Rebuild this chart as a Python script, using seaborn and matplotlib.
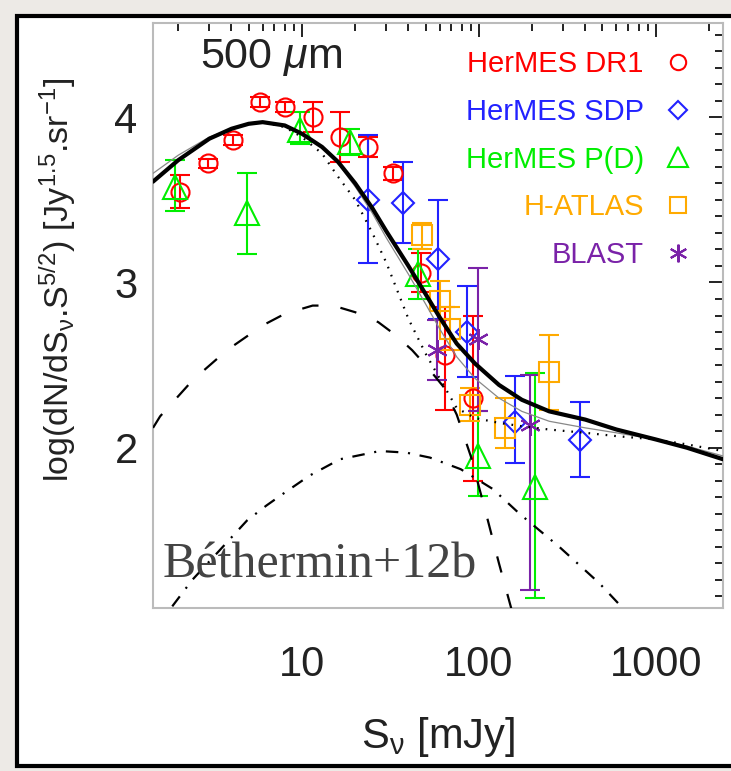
import pandas as pd
import seaborn as sns
import matplotlib.pyplot as plt
from matplotlib.lines import Line2D
from matplotlib.patches import Rectangle
from matplotlib.ticker import FixedLocator, MultipleLocator, NullFormatter, LogLocator

# HerMES DR1 (circles)
dr1_s = [2.05, 2.94, 4.07, 5.8, 8.0, 11.5, 16.4, 23.6, 32.7, 47, 64, 92.5]
dr1_y = [3.55, 3.72, 3.86, 4.09, 4.06, 4.00, 3.88, 3.82, 3.66, 3.06, 2.56, 2.30]
dr1_lo = [0.10, 0.03, 0.03, 0.03, 0.03, 0.09, 0.15, 0.06, 0.04, 0.12, 0.33, 0.50]
dr1_hi = [0.10, 0.03, 0.03, 0.03, 0.03, 0.09, 0.15, 0.06, 0.04, 0.12, 0.29, 0.50]

# HerMES SDP (diamonds)
sdp_s = [23.6, 37.2, 58.6, 85.5, 160, 372]
sdp_y = [3.50, 3.48, 3.14, 2.70, 2.155, 2.045]
sdp_lo = [0.38, 0.24, 0.36, 0.27, 0.25, 0.22]
sdp_hi = [0.39, 0.25, 0.36, 0.28, 0.28, 0.23]

# HerMES P(D) (triangles)
pd_s = [1.91, 4.89, 9.75, 18.7, 45.2, 98.6, 207]
pd_y = [3.58, 3.42, 3.92, 3.85, 3.05, 1.95, 1.76]
pd_lo = [0.15, 0.25, 0.08, 0.08, 0.15, 0.24, 0.67]
pd_hi = [0.16, 0.24, 0.11, 0.08, 0.15, 0.27, 0.69]

# H-ATLAS (squares)
atlas_s = [47.6, 60, 68.5, 89, 140, 248]
atlas_y = [3.29, 2.89, 2.72, 2.26, 2.12, 2.46]
atlas_lo = [0.09, 0.12, 0.13, 0.10, 0.12, 0.23]
atlas_hi = [0.07, 0.12, 0.13, 0.10, 0.18, 0.22]

# BLAST (asterisks)
blast_s = [58, 98.6, 194]
blast_y = [2.59, 2.66, 2.14]
blast_lo = [0.18, 0.44, 1.00]
blast_hi = [0.18, 0.43, 0.30]

# model curves
mod_s = [1.44, 2, 3, 4, 5, 6, 8, 10, 13, 16, 20, 25, 30, 40, 50, 60, 75, 95,
         130, 175, 250, 400, 600, 1000, 1500, 2400]
total = [3.61, 3.74, 3.87, 3.93, 3.96, 3.97, 3.95, 3.90, 3.82, 3.73, 3.60, 3.45,
         3.31, 3.10, 2.93, 2.79, 2.63, 2.51, 2.38, 2.29, 2.22, 2.17, 2.11, 2.05, 2.00, 1.93]
thin = [3.66, 3.77, 3.88, 3.93, 3.96, 3.97, 3.95, 3.90, 3.82, 3.72, 3.58, 3.42,
        3.27, 3.05, 2.87, 2.72, 2.55, 2.42, 2.30, 2.22, 2.16, 2.12, 2.09, 2.05, 2.01, 1.95]
nolens = [3.61, 3.74, 3.87, 3.93, 3.96, 3.97, 3.94, 3.88, 3.78, 3.64, 3.50, 3.30,
          3.12, 2.78, 2.57, 2.42, 2.24, 2.18, 2.15, 2.13, 2.11, 2.09, 2.07, 2.05, 2.02, 1.98]

ms_s = [1.44, 1.58, 2.42, 3.77, 6.0, 8, 11.5, 15, 20, 27, 34, 42, 51, 63, 75, 90, 110, 130, 155]
ms_y = [2.12, 2.19, 2.41, 2.59, 2.74, 2.81, 2.86, 2.86, 2.82, 2.76, 2.68, 2.59,
        2.49, 2.37, 2.20, 1.95, 1.60, 1.30, 1.00]

sb_s = [1.85, 2.4, 3.3, 4.9, 6.3, 7.8, 11, 16.4, 27.6, 39, 53, 79, 120, 170, 285, 480, 650]
sb_y = [1.04, 1.20, 1.36, 1.56, 1.65, 1.72, 1.83, 1.93, 1.98, 1.97, 1.94, 1.87,
        1.75, 1.60, 1.40, 1.18, 1.03]

labels = ['HerMES DR1', 'HerMES SDP', 'HerMES P(D)', 'H-ATLAS', 'BLAST']
colors = ['#FF0000', '#2222FF', '#00EE00', '#FFAA00', '#7A22A8']
markers = ['o', 'D', '^', 's', (6, 2, 0)]
msizes = [13, 11, 17, 14, 15]

sns.set_theme(style='white')
plt.rcParams['font.family'] = ['Liberation Sans', 'DejaVu Sans']
plt.rcParams['mathtext.fontset'] = 'custom'
plt.rcParams['mathtext.rm'] = 'Liberation Sans'
plt.rcParams['mathtext.it'] = 'Liberation Sans:italic'
plt.rcParams['mathtext.default'] = 'regular'
plt.rcParams['lines.scale_dashes'] = False

W, H = 731, 771
fig = plt.figure(figsize=(W / 100, H / 100), dpi=100, facecolor='#EDEAE6')
fig.patches.append(Rectangle((17 / W, 5 / H), 1.0, (H - 21) / H, transform=fig.transFigure,
                             fc='white', ec='black', lw=3, zorder=-10))
ax = fig.add_axes([153 / W, 1 - 608 / H, 570 / W, 585 / H])
ax.set_xscale('log')

# data with error bars
sets = [(dr1_s, dr1_y, dr1_lo, dr1_hi), (sdp_s, sdp_y, sdp_lo, sdp_hi),
        (pd_s, pd_y, pd_lo, pd_hi), (atlas_s, atlas_y, atlas_lo, atlas_hi),
        (blast_s, blast_y, blast_lo, blast_hi)]
for (s, y, lo, hi), c, m, ms in zip(sets, colors, markers, msizes):
    ax.errorbar(s, y, yerr=[lo, hi], fmt='none', ecolor=c, elinewidth=1.5,
                capsize=7, capthick=1.5, zorder=2)
    ax.plot(s, y, ls='none', marker=m, ms=ms, mfc='none', mec=c, mew=1.5, zorder=3)

# model curves
curves = pd.DataFrame({'S': mod_s, 'total': total, 'thin': thin, 'nolens': nolens})
sns.lineplot(data=curves, x='S', y='thin', ax=ax, color='#888888', lw=0.9,
             sort=False, estimator=None, zorder=4)
sns.lineplot(data=curves, x='S', y='nolens', ax=ax, color='black', lw=1.6,
             linestyle=(0, (1.2, 5)), sort=False, estimator=None, zorder=4)
sns.lineplot(data=curves, x='S', y='total', ax=ax, color='black', lw=3,
             sort=False, estimator=None, zorder=5)
ms_df = pd.DataFrame({'S': ms_s, 'y': ms_y})
sns.lineplot(data=ms_df, x='S', y='y', ax=ax, color='black', lw=1.6,
             linestyle=(0, (12, 16)), sort=False, estimator=None, zorder=4)
sb_df = pd.DataFrame({'S': sb_s, 'y': sb_y})
sns.lineplot(data=sb_df, x='S', y='y', ax=ax, color='black', lw=1.6,
             linestyle=(0, (9, 7, 1.5, 7)), sort=False, estimator=None, zorder=4)

ax.set_xlim(1.44, 2400)
ax.set_ylim(1.03, 4.57)
ax.xaxis.set_major_locator(FixedLocator([10, 100, 1000]))
ax.xaxis.set_major_formatter(plt.FixedFormatter(['10', '100', '1000']))
ax.xaxis.set_minor_locator(LogLocator(base=10, subs=range(2, 10)))
ax.xaxis.set_minor_formatter(NullFormatter())
ax.yaxis.set_major_locator(FixedLocator([2, 3, 4]))
ax.yaxis.set_minor_locator(MultipleLocator(0.1))
ax.tick_params(which='both', direction='in', top=True, right=True, color='#222222')
ax.tick_params(which='major', length=10, width=1.4, labelsize=30, colors='#222222')
ax.tick_params(which='minor', length=6, width=1.4)
ax.tick_params(axis='x', which='major', pad=27)
ax.tick_params(axis='y', which='major', pad=11)
for sp in ax.spines.values():
    sp.set_color('#BBBBBB')
    sp.set_linewidth(1.5)

ax.set_xlabel(r'S$_\nu$ [mJy]', fontsize=30, color='#222222')
ax.xaxis.set_label_coords(0.5, -0.183)
ax.set_ylabel(r'log(dN/dS$_\nu$.S$^{5/2}$) [Jy$^{1.5}$.sr$^{-1}$]', fontsize=24.5, color='#222222')
ax.yaxis.set_label_coords(-0.1316, 0.561)

fig.text(200 / W, 1 - 68 / H, r'500 $\mathit{\mu}$m', fontsize=31, color='#222222',
         ha='left', va='baseline')

handles = [Line2D([], [], ls='none', marker=m, ms=ms * 0.85, mfc='none', mec=c, mew=1.5)
           for c, m, ms in zip(colors, markers, msizes)]
ax.legend(handles, labels, loc='upper right', bbox_to_anchor=(0.971, 0.974),
          markerfirst=False, frameon=False, fontsize=21, labelcolor=colors,
          handlelength=1.15, handletextpad=0.6, labelspacing=0.68, borderaxespad=0)

fig.text(163 / W, 1 - 578 / H, 'Béthermin+12b', fontsize=36, family='Liberation Serif',
         color='#444444', ha='left', va='baseline', zorder=10)

fig.savefig('out.png', dpi=100, facecolor=fig.get_facecolor())
